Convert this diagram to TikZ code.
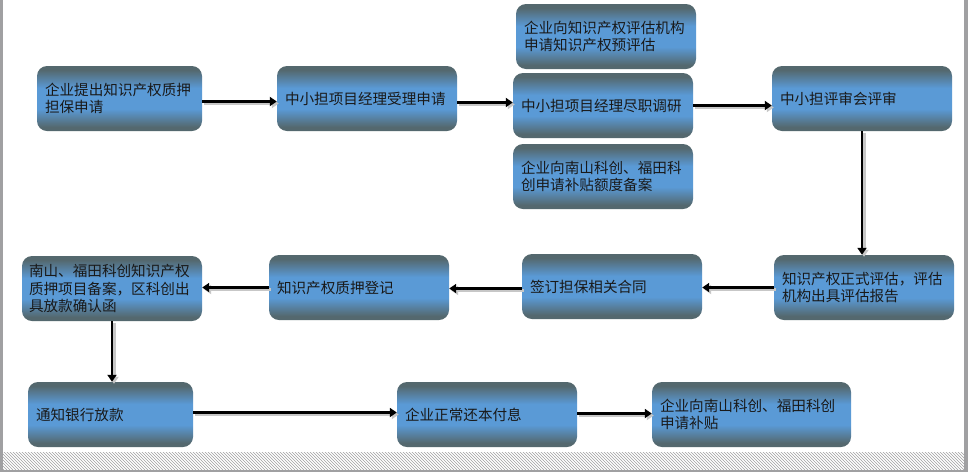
\documentclass[tikz,border=0pt]{standalone}
\usepackage{fontspec}
\setmainfont{Noto Sans CJK SC}
\usetikzlibrary{arrows.meta,patterns}
\definecolor{slate}{RGB}{84,104,110}
\definecolor{skyb}{RGB}{90,154,214}
\definecolor{frame}{RGB}{160,160,162}
\pgfdeclareverticalshading{boxshade}{100bp}{color(0bp)=(slate); color(25bp)=(slate); color(28bp)=(slate); color(42bp)=(skyb); color(58bp)=(skyb); color(72bp)=(slate); color(75bp)=(slate); color(100bp)=(slate)}
\tikzset{
  box/.style={rectangle, rounded corners=10pt, shading=boxshade, minimum height=65pt, inner xsep=8pt, inner ysep=0pt,
    align=left, text=black!90, font=\fontsize{14.6}{17.5}\selectfont},
  arr/.style={line width=2.6pt, -{Triangle[length=7pt,width=9pt]},
    preaction={draw=black!22, line width=3.2pt, transform canvas={shift={(2pt,-2pt)}}}}
}
\begin{document}
\begin{tikzpicture}[x=1pt,y=-1pt]
\useasboundingbox (0,0) rectangle (968,472);
\fill[white] (0,0) rectangle (968,472);
% frame
\fill[frame] (0,0) rectangle (3,472);
\fill[frame] (964,0) rectangle (968,472);
\fill[pattern=north west lines, pattern color=frame] (3,452) rectangle (964,470);
\fill[frame] (0,470) rectangle (968,472);
% boxes
\node[box, minimum width=165pt, text width=149pt] (n1) at (119.5,98.5) {企业提出知识产权质押\\担保申请};
\node[box, minimum width=180pt, text width=164pt] (n2) at (367,98.5) {中小担项目经理受理申请};
\node[box, minimum width=180pt, text width=164pt] (n3) at (606,36.5) {企业向知识产权评估机构\\申请知识产权预评估};
\node[box, minimum width=180pt, text width=164pt] (n4) at (603,105.5) {中小担项目经理尽职调研};
\node[box, minimum width=180pt, text width=164pt] (n5) at (603,176.5) {企业向南山科创、福田科\\创申请补贴额度备案};
\node[box, minimum width=180pt, text width=164pt] (n6) at (862,98.5) {中小担评审会评审};
\node[box, minimum width=180pt, text width=164pt] (n7) at (864,287.5) {知识产权正式评估，评估\\机构出具评估报告};
\node[box, minimum width=180pt, text width=164pt] (n8) at (612,286.5) {签订担保相关合同};
\node[box, minimum width=180pt, text width=164pt] (n9) at (359,287.5) {知识产权质押登记};
\node[box, minimum width=180pt, text width=166pt, inner xsep=7pt] (n10) at (112,288.5) {南山、福田科创知识产权\\质押项目备案，区科创出\\具放款确认函};
\node[box, minimum width=165pt, text width=149pt] (n11) at (110.5,414.5) {通知银行放款};
\node[box, minimum width=180pt, text width=164pt] (n12) at (487,414.5) {企业正常还本付息};
\node[box, minimum width=199pt, text width=183pt] (n13) at (751.5,414.5) {企业向南山科创、福田科创\\申请补贴};
% connectors
\draw[arr] ([yshift=-3pt]n1.east) -- ([yshift=-3pt]n2.west);
\draw[arr] ([yshift=-4pt]n2.east) -- ([yshift=-4pt]n2.east -| n4.west);
\draw[arr] (n4.east) -- (n4.east -| n6.west);
\draw[arr] (n6.south) -- (n6.south |- n7.north);
\draw[arr] (n7.west) -- (n7.west -| n8.east);
\draw[arr] ([yshift=-2pt]n8.west) -- ([yshift=-2pt]n8.west -| n9.east);
\draw[arr] (n9.west) -- (n9.west -| n10.east);
\draw[arr] (n10.south) -- (n10.south |- n11.north);
\draw[arr] ([yshift=2pt]n11.east) -- ([yshift=2pt]n11.east -| n12.west);
\draw[arr] ([yshift=1pt]n12.east) -- ([yshift=1pt]n12.east -| n13.west);
\end{tikzpicture}
\end{document}
